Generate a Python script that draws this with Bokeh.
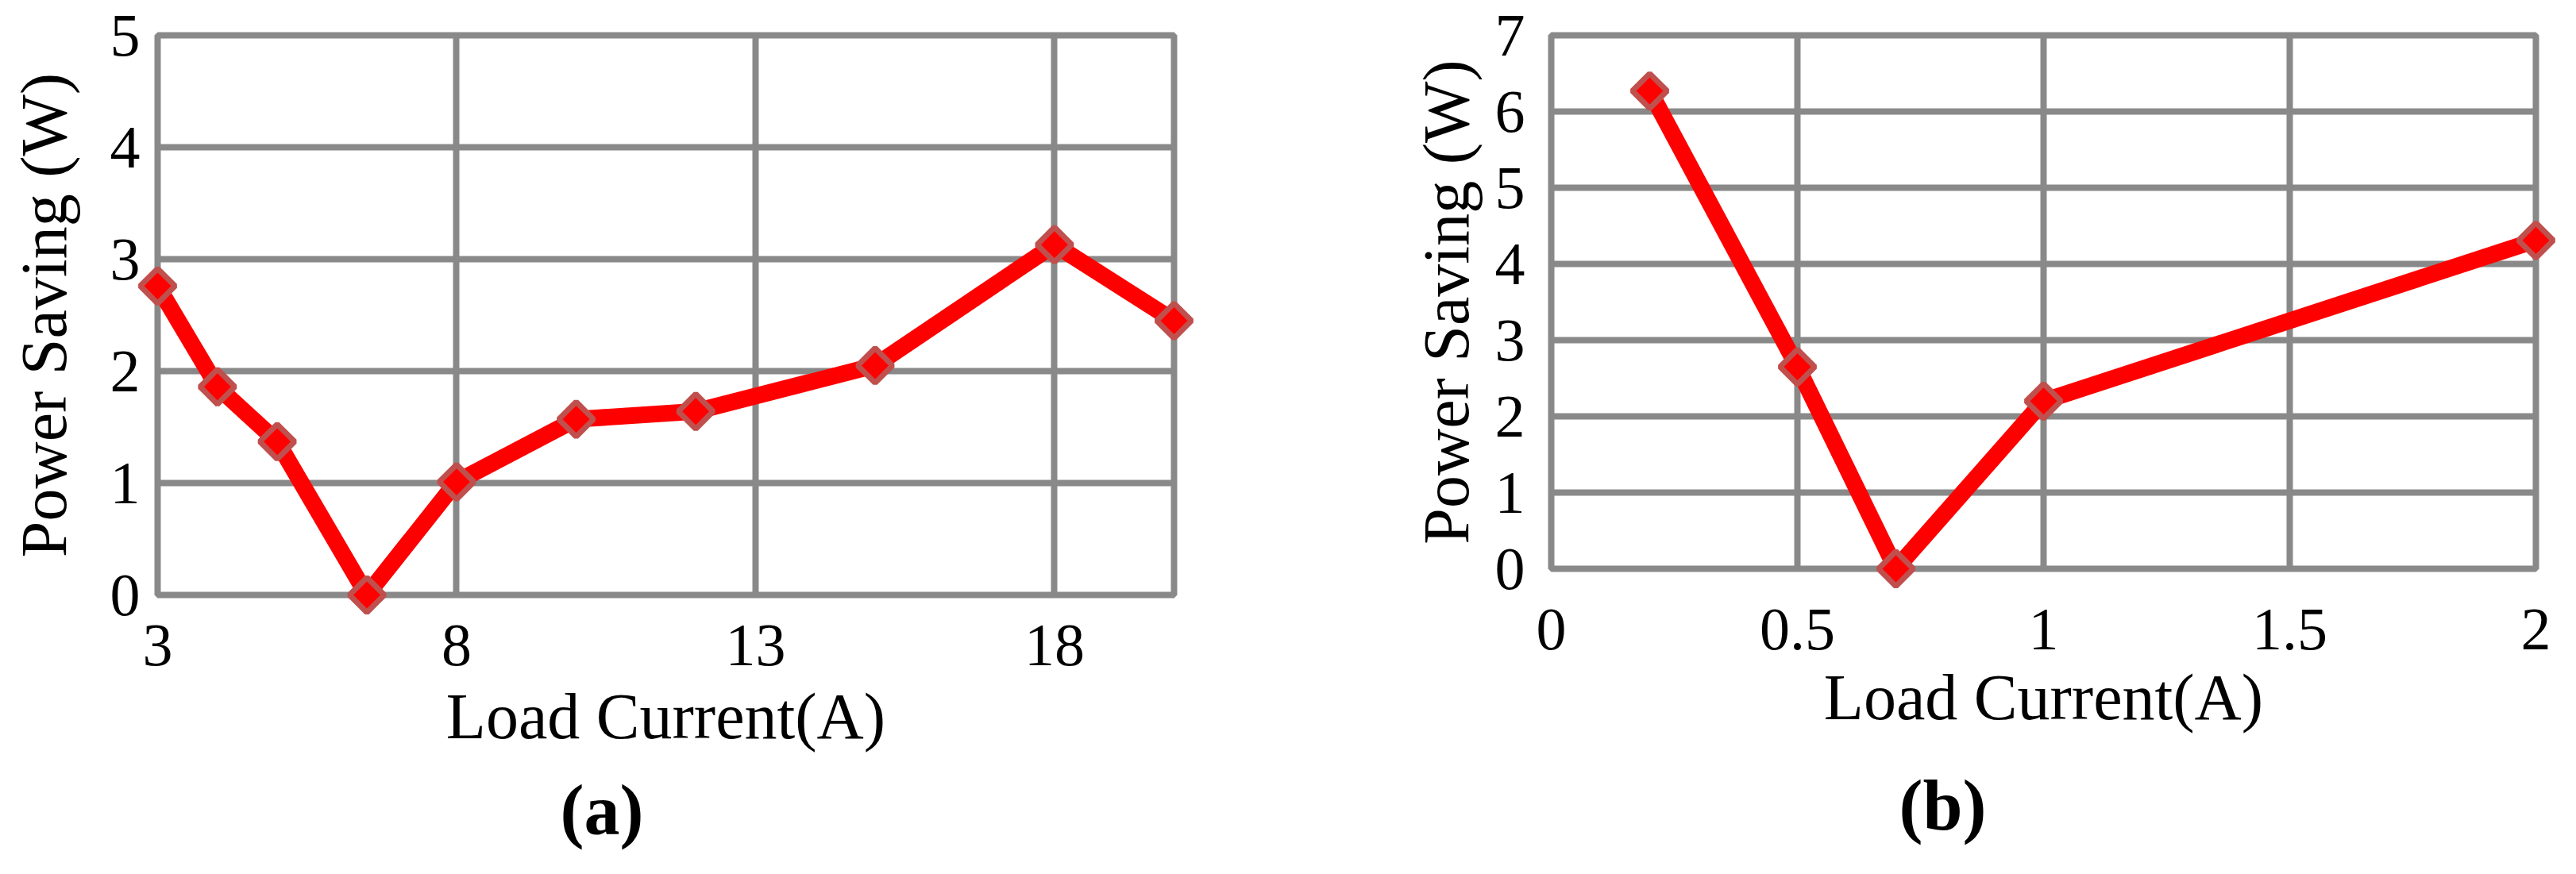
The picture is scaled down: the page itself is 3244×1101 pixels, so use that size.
import math
from bokeh.plotting import figure
from bokeh.layouts import row
from bokeh.models import FixedTicker, Range1d, Title
from bokeh.embed import file_html
from bokeh.resources import INLINE

# ---------------- data ----------------
# Panel (a)
a_current = [3, 4, 5, 6.5, 8, 10, 12, 15, 18, 20]
a_saving = [2.76, 1.86, 1.37, 0.0, 1.01, 1.57, 1.64, 2.05, 3.13, 2.45]
a_xticks = [3, 8, 13, 18]
a_xlabels = ["3", "8", "13", "18"]
a_yticks = [0, 1, 2, 3, 4, 5]
a_xlim = (3, 20)
a_ylim = (0, 5)

# Panel (b)
b_current = [0.2, 0.5, 0.7, 1.0, 2.0]
b_saving = [6.27, 2.65, 0.0, 2.2, 4.31]
b_xticks = [0, 0.5, 1, 1.5, 2]
b_xlabels = ["0", "0.5", "1", "1.5", "2"]
b_yticks = [0, 1, 2, 3, 4, 5, 6, 7]
b_ylim = (0, 7)
b_xlim = (0, 2)

x_title = "Load Current(A)"
y_title = "Power Saving (W)"
captions = ["(a)", "(b)"]

FONT = "Liberation Serif"
GRID = "#898989"


def panel(xs, ys, xlim, ylim, xticks, xlabels, yticks, fw, fh, ml, mr, mt, mb,
          xl_stand, xa_stand, yl_stand, ya_stand, caption, cap_offset, cap_stand):
    p = figure(frame_width=fw, frame_height=fh, output_backend="svg",
               toolbar_location=None, x_range=Range1d(*xlim), y_range=Range1d(*ylim),
               min_border_left=ml, min_border_right=mr, min_border_top=mt,
               min_border_bottom=mb, background_fill_color="white",
               border_fill_color="white")
    p.outline_line_color = GRID
    p.outline_line_width = 8
    p.outline_line_alpha = 1.0

    p.xaxis.ticker = FixedTicker(ticks=xticks)
    p.xaxis.major_label_overrides = {t: l for t, l in zip(xticks, xlabels)}
    p.yaxis.ticker = FixedTicker(ticks=yticks)

    for ax in (p.xaxis, p.yaxis):
        ax.axis_line_color = None
        ax.major_tick_line_color = None
        ax.minor_tick_line_color = None
        ax.major_tick_out = 0
        ax.major_tick_in = 0
        ax.major_label_text_font = FONT
        ax.major_label_text_font_size = "76px"
        ax.major_label_text_color = "black"
        ax.axis_label_text_font = FONT
        ax.axis_label_text_font_size = "82px"
        ax.axis_label_text_font_style = "normal"
        ax.axis_label_text_color = "black"
    p.xaxis.axis_label = x_title
    p.yaxis.axis_label = y_title
    p.xaxis.major_label_standoff = xl_stand
    p.xaxis.axis_label_standoff = xa_stand
    p.yaxis.major_label_standoff = yl_stand
    p.yaxis.axis_label_standoff = ya_stand

    p.grid.grid_line_color = GRID
    p.grid.grid_line_width = 8
    p.grid.grid_line_alpha = 1.0

    p.line(xs, ys, line_color="#FF0000", line_width=21, line_join="round",
           level="overlay")
    p.scatter(xs, ys, marker="square", size=31, angle=math.pi / 4,
              fill_color="#FF0000", line_color="#C0504D", line_width=7,
              level="overlay")

    t = Title(text=caption, align="left", offset=cap_offset, standoff=cap_stand,
              text_font=FONT, text_font_size="90px", text_font_style="bold",
              text_color="black")
    p.add_layout(t, "below")
    return p


pa = panel(a_current, a_saving, a_xlim, a_ylim, a_xticks, a_xlabels, a_yticks,
           fw=1280, fh=705, ml=198, mr=220, mt=44, mb=336,
           xl_stand=38, xa_stand=16, yl_stand=22, ya_stand=35,
           caption=captions[0], cap_offset=507, cap_stand=37)

pb = panel(b_current, b_saving, b_xlim, b_ylim, b_xticks, b_xlabels, b_yticks,
           fw=1240, fh=672, ml=255, mr=35, mt=44, mb=369,
           xl_stand=51, xa_stand=12, yl_stand=33, ya_stand=13,
           caption=captions[1], cap_offset=438, cap_stand=72)

layout = row(pa, pb)
open("out.html", "w").write(file_html(layout, INLINE))
